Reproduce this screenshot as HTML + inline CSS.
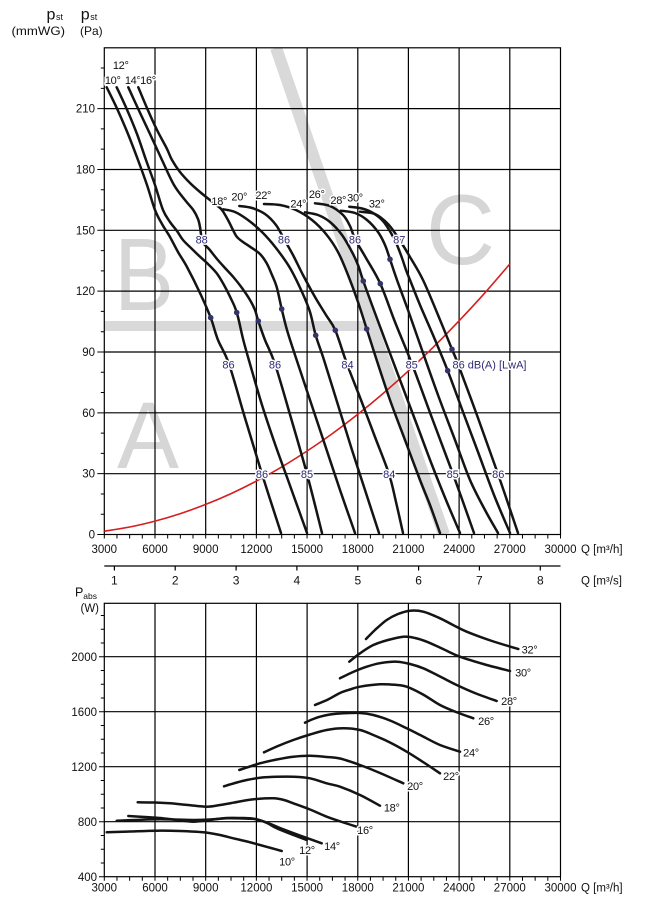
<!DOCTYPE html>
<html><head><meta charset="utf-8"><style>
html,body{margin:0;padding:0;background:#fff;}
svg{display:block;}
text{font-family:"Liberation Sans",Arial,sans-serif;}
.ax{font-size:11.5px;fill:#111;}
.lb{font-size:11px;fill:#111;stroke:#fff;stroke-width:3px;paint-order:stroke;letter-spacing:-0.3px;}
.nv{font-size:11px;fill:#2d2b78;stroke:#fff;stroke-width:3px;paint-order:stroke;text-anchor:middle;}
.cv{fill:none;stroke:#141414;stroke-width:2.5;stroke-linejoin:round;stroke-linecap:round;}
</style></head><body>
<svg id="chart" width="645" height="916" viewBox="0 0 645 916" xmlns="http://www.w3.org/2000/svg">
<defs><clipPath id="cp"><rect x="104.3" y="47.8" width="456.2" height="486.7"/></clipPath></defs>
<rect width="645" height="916" fill="#fff"/>

<!-- header labels -->
<text x="46.5" y="19.3" font-size="16" fill="#111">p</text><text x="56" y="20" font-size="9" fill="#111">st</text>
<text x="80.8" y="19.3" font-size="16" fill="#111">p</text><text x="90.3" y="20" font-size="9" fill="#111">st</text>
<text x="11.5" y="34.8" font-size="12" fill="#111" textLength="53.5" lengthAdjust="spacingAndGlyphs">(mmWG)</text>
<text x="80" y="34.8" font-size="12" fill="#111">(Pa)</text>

<!-- gray regions -->
<g fill="#d6d6d6">
<text x="114" y="310" font-size="103" textLength="60" lengthAdjust="spacingAndGlyphs">B</text>
<text x="117" y="468" font-size="95" textLength="62" lengthAdjust="spacingAndGlyphs">A</text>
<text x="426" y="264" font-size="99" textLength="69" lengthAdjust="spacingAndGlyphs">C</text>
</g>
<g clip-path="url(#cp)">
<rect x="104.3" y="321" width="266" height="10" fill="#d9d9d9"/>
<line x1="276" y1="47.8" x2="444" y2="534.5" stroke="#d9d9d9" stroke-width="12"/>
</g>

<!-- top grid -->
<g stroke="#000" stroke-width="1.2" fill="none">
<rect x="104.3" y="47.8" width="456.2" height="486.7"/>
<path d="M155 47.8V534.5M205.7 47.8V534.5M256.4 47.8V534.5M307.1 47.8V534.5M357.8 47.8V534.5M408.4 47.8V534.5M459.1 47.8V534.5M509.8 47.8V534.5"/>
<path d="M104.3 473.7H560.5M104.3 412.8H560.5M104.3 352H560.5M104.3 291.1H560.5M104.3 230.3H560.5M104.3 169.5H560.5M104.3 108.6H560.5"/>
</g>
<!-- top ticks -->
<g stroke="#000" stroke-width="1" fill="none">
<path d="M104.3 534.5v4M116.97 534.5v4M129.64 534.5v4M142.32 534.5v4M154.99 534.5v4M167.66 534.5v4M180.33 534.5v4M193 534.5v4M205.68 534.5v4M218.35 534.5v4M231.02 534.5v4M243.69 534.5v4M256.36 534.5v4M269.04 534.5v4M281.71 534.5v4M294.38 534.5v4M307.05 534.5v4M319.72 534.5v4M332.4 534.5v4M345.07 534.5v4M357.74 534.5v4M370.41 534.5v4M383.08 534.5v4M395.76 534.5v4M408.43 534.5v4M421.1 534.5v4M433.77 534.5v4M446.44 534.5v4M459.12 534.5v4M471.79 534.5v4M484.46 534.5v4M497.13 534.5v4M509.8 534.5v4M522.48 534.5v4M535.15 534.5v4M547.82 534.5v4M560.49 534.5v4"/>
<path d="M97.3 534.5h7M100.8 514.22h3.5M100.8 493.94h3.5M97.3 473.66h7M100.8 453.38h3.5M100.8 433.1h3.5M97.3 412.82h7M100.8 392.54h3.5M100.8 372.26h3.5M97.3 351.98h7M100.8 331.7h3.5M100.8 311.42h3.5M97.3 291.14h7M100.8 270.86h3.5M100.8 250.58h3.5M97.3 230.3h7M100.8 210.02h3.5M100.8 189.74h3.5M97.3 169.46h7M100.8 149.18h3.5M100.8 128.9h3.5M97.3 108.62h7M100.8 88.34h3.5M100.8 68.06h3.5"/>
</g>
<!-- top y labels -->
<g class="ax" text-anchor="end">
<text x="95" y="538.5">0</text><text x="95" y="477.7">30</text><text x="95" y="416.8">60</text><text x="95" y="356">90</text><text x="95" y="295.1">120</text><text x="95" y="234.3">150</text><text x="95" y="173.5">180</text><text x="95" y="112.6">210</text>
</g>
<!-- top x labels -->
<g class="ax" text-anchor="middle">
<text x="104.3" y="553">3000</text><text x="155" y="553">6000</text><text x="205.7" y="553">9000</text><text x="256.4" y="553">12000</text><text x="307.1" y="553">15000</text><text x="357.8" y="553">18000</text><text x="408.4" y="553">21000</text><text x="459.1" y="553">24000</text><text x="509.8" y="553">27000</text><text x="560.5" y="553">30000</text>
</g>
<text class="ax" x="581" y="553">Q [m³/h]</text>

<!-- m3/s axis -->
<g stroke="#000" stroke-width="1.2" fill="none">
<path d="M104.3 566H560.5"/>
<path d="M114.4 566v4.5M175.2 566v4.5M236.1 566v4.5M296.9 566v4.5M357.8 566v4.5M418.6 566v4.5M479.4 566v4.5M540.3 566v4.5"/>
</g>
<g class="ax" text-anchor="middle" style="font-size:12px">
<text x="114.4" y="584.5">1</text><text x="175.2" y="584.5">2</text><text x="236.1" y="584.5">3</text><text x="296.9" y="584.5">4</text><text x="357.8" y="584.5">5</text><text x="418.6" y="584.5">6</text><text x="479.4" y="584.5">7</text><text x="540.3" y="584.5">8</text>
</g>
<text class="ax" x="581" y="584.5">Q [m³/s]</text>

<!-- red system curve -->
<polyline class="sm" fill="none" stroke="#d41f1f" stroke-width="1.6" points="104.3,531.2 129.7,527 155,521.1 180.4,513.6 205.7,504.4 231.1,493.6 256.4,481.1 281.8,466.9 307.1,451 332.5,433.5 357.8,414.3 383.2,393.4 408.5,370.8 433.9,346.6 459.2,320.7 484.6,293.2 509.9,263.9"/>

<!-- top curves -->
<g class="cv">
<polyline class="sm" points="106.7,87.3 117,108.5 128,134 138,160 147,185 155,210 162,224 170,237 178,252 187,267 200,293 210.7,317.7 218,340 229,364 245,418 262,474 281,533"/>
<polyline class="sm" points="116.7,87.3 126.5,108.5 137,134 146,160 155,185 163,210 170,222 177,231 183,240 192,249 200,256.7 208,264 216.7,273.3 224,285 230,296.7 236.7,312.3 243.3,340 250,364 262,405 275,444 288,480 307,533"/>
<polyline class="sm" points="128.3,87.3 138,108.5 150,134 162,160 174,185 185,200 193.3,210 198,219 200,227 201.7,239 204,244 209,249 217,259 225,268 233.3,277 242,288 250,300 255,310 258.3,321 265,340 275,364 291,418 307,474 322,533"/>
<polyline class="sm" points="138.3,87.3 147.3,108.7 157,130 166.7,148.3 172,160 180,172 190,183 200,192 210,200 217,205.5 222,210 228,220 233,230 237,237 243,242 250,246.7 260,254 266.7,263.3 272,275 276.7,287 281.7,309 287,330 295,355 310,400 325,445 340,490 355,533"/>
<polyline class="sm" points="223.3,209.3 235,212 248,220 262,232 276,248 290,268 302,292 310,312 315.7,335.3 324,360 338,405 352,450 365,490 379,533"/>
<polyline class="sm" points="239.3,206 252,208 265,214 276,225 284,239 293,255 303,275 315,297 326,315 335.3,330.3 347,364 361,400 375,437 389,474 396,502 403,533"/>
<polyline class="sm" points="264,204 280,205 296,210 312,220 326,234 338,252 348,275 358,302 366.7,329 376,358 390,400 405,440 420,480 430,505 440,533"/>
<polyline class="sm" points="305,212.3 318,215 330,222 342,235 352,252 358,265 363.3,281 372,305 385,340 400,380 417,425 432,465 446,500 460,533"/>
<polyline class="sm" points="315,203.3 330,206 343,215 350,226 355,239 366,258 380.3,283.7 395,322 412,364 432,418 453,474 474,533"/>
<polyline class="sm" points="340.7,210.7 355,213 367,220 378,232 385,245 390,259.3 397,280 408,310 422,350 438,395 455,440 470,480 485,510 498,533"/>
<polyline class="sm" points="349.3,206.7 362,208.5 373,213 383,221 391,233 397,245 402,258 406,270 410,280 420,305 433,335 447.7,370.7 463,412 478,452 494,495 510,533"/>
<polyline class="sm" points="360,211.7 375,214 388,224 399,239 410,257 423,280 438,315 452,349.3 458,364 478,418 498,474 518,533"/>
</g>

<!-- dots -->
<g fill="#34346a">
<circle cx="210.7" cy="317.7" r="2.8"/><circle cx="236.7" cy="312.5" r="2.8"/><circle cx="258.3" cy="321" r="2.8"/><circle cx="281.7" cy="309" r="2.8"/><circle cx="315.7" cy="335.3" r="2.8"/><circle cx="335.3" cy="330.3" r="2.8"/><circle cx="366.7" cy="329" r="2.8"/><circle cx="363.3" cy="281" r="2.8"/><circle cx="380.3" cy="283.7" r="2.8"/><circle cx="390" cy="259.3" r="2.8"/><circle cx="452" cy="349.3" r="2.8"/><circle cx="447.7" cy="370.7" r="2.8"/>
</g>

<!-- angle labels top -->
<g class="lb" text-anchor="middle">
<text x="120.7" y="69">12°</text><text x="112.7" y="84">10°</text><text x="132.7" y="84">14°</text><text x="148" y="84">16°</text>
<text x="219.3" y="205">18°</text><text x="239.3" y="200.7">20°</text><text x="263.3" y="199">22°</text><text x="298.3" y="207.3">24°</text><text x="316.7" y="198">26°</text><text x="338.3" y="204">28°</text><text x="355" y="201.3">30°</text><text x="376.7" y="207.3">32°</text>
</g>

<!-- dB labels -->
<g>
<text class="nv" x="201.7" y="243.3">88</text><text class="nv" x="284" y="243.3">86</text><text class="nv" x="355" y="243.3">86</text><text class="nv" x="399.3" y="243.3">87</text>
<text class="nv" x="228.5" y="368.3">86</text><text class="nv" x="275" y="368.3">86</text><text class="nv" x="347.5" y="368.3">84</text><text class="nv" x="411.7" y="368.3">85</text>
<text class="nv" x="262" y="478">86</text><text class="nv" x="307" y="478">85</text><text class="nv" x="389.3" y="478">84</text><text class="nv" x="452.7" y="478">85</text><text class="nv" x="498.3" y="478">86</text>
<text class="nv" x="452.5" y="368.3" style="text-anchor:start">86 dB(A) [LwA]</text>
</g>

<!-- bottom chart labels -->
<text x="75" y="596.5" font-size="12.5" fill="#111">P</text><text x="83.3" y="598.8" font-size="8.5" fill="#111">abs</text>
<text x="80.5" y="612" font-size="11.5" fill="#111">(W)</text>

<!-- bottom grid -->
<g stroke="#000" stroke-width="1.2" fill="none">
<rect x="104.3" y="603.3" width="456.2" height="273.4"/>
<path d="M155 603.3V876.7M205.7 603.3V876.7M256.4 603.3V876.7M307.1 603.3V876.7M357.8 603.3V876.7M408.4 603.3V876.7M459.1 603.3V876.7M509.8 603.3V876.7"/>
<path d="M104.3 821.7H560.5M104.3 766.7H560.5M104.3 711.7H560.5M104.3 656.7H560.5"/>
</g>
<g stroke="#000" stroke-width="1" fill="none">
<path d="M104.3 876.7v4M116.97 876.7v4M129.64 876.7v4M142.32 876.7v4M154.99 876.7v4M167.66 876.7v4M180.33 876.7v4M193 876.7v4M205.68 876.7v4M218.35 876.7v4M231.02 876.7v4M243.69 876.7v4M256.36 876.7v4M269.04 876.7v4M281.71 876.7v4M294.38 876.7v4M307.05 876.7v4M319.72 876.7v4M332.4 876.7v4M345.07 876.7v4M357.74 876.7v4M370.41 876.7v4M383.08 876.7v4M395.76 876.7v4M408.43 876.7v4M421.1 876.7v4M433.77 876.7v4M446.44 876.7v4M459.12 876.7v4M471.79 876.7v4M484.46 876.7v4M497.13 876.7v4M509.8 876.7v4M522.48 876.7v4M535.15 876.7v4M547.82 876.7v4M560.49 876.7v4"/>
<path d="M99 876.7h5.3M100.8 862.95h3.5M100.8 849.2h3.5M100.8 835.45h3.5M99 821.7h5.3M100.8 807.95h3.5M100.8 794.2h3.5M100.8 780.45h3.5M99 766.7h5.3M100.8 752.95h3.5M100.8 739.2h3.5M100.8 725.45h3.5M99 711.7h5.3M100.8 697.95h3.5M100.8 684.2h3.5M100.8 670.45h3.5M99 656.7h5.3M100.8 642.95h3.5M100.8 629.2h3.5M100.8 615.45h3.5"/>
</g>
<g class="ax" text-anchor="end">
<text x="97" y="880.8">400</text><text x="97" y="825.8">800</text><text x="97" y="770.8">1200</text><text x="97" y="715.8">1600</text><text x="97" y="660.8">2000</text>
</g>
<g class="ax" text-anchor="middle">
<text x="104.3" y="891.5">3000</text><text x="155" y="891.5">6000</text><text x="205.7" y="891.5">9000</text><text x="256.4" y="891.5">12000</text><text x="307.1" y="891.5">15000</text><text x="357.8" y="891.5">18000</text><text x="408.4" y="891.5">21000</text><text x="459.1" y="891.5">24000</text><text x="509.8" y="891.5">27000</text><text x="560.5" y="891.5">30000</text>
</g>
<text class="ax" x="581" y="891.5">Q [m³/h]</text>

<!-- bottom curves -->
<g class="cv">
<polyline class="sm" points="106.7,832.3 130,831.5 156.7,830.7 180,831 203.3,832.3 220,835 233.3,838.3 247,841.5 260,845 271,848 281.7,851"/>
<polyline class="sm" points="116.7,820.7 135,820 160,819.3 193.3,820 210,819.5 226.7,818.3 243,818.5 256.7,819.3 267,823 276.7,828.3 292,834.5 306.7,840"/>
<polyline class="sm" points="128.3,816 145,817 160,818 177,820 193.3,821.7 210,820 226.7,818 240,818 253.3,818.7 268,823 280,828 300,835.5 321.7,843.3"/>
<polyline class="sm" points="137.7,802.3 155,802.5 170,803.3 188,805 206.7,806.7 220,805 233.3,802.7 245,800.5 256.7,799 273.3,798.3 284,800 293.3,803.3 310,809.5 326.7,816.7 342,822 356.7,826.7"/>
<polyline class="sm" points="224,786.3 235,783 246.7,780 262,777.5 276.7,776.7 293.3,776.7 310,778.3 326.7,783.3 340,786.7 360,795 380,805.7"/>
<polyline class="sm" points="239.3,770 250,766.5 260,763.3 276.7,759.5 293.3,756.7 310,755.7 326.7,757 340,758.5 360,765 380,773 403.3,783.3"/>
<polyline class="sm" points="264,752.3 278,746 293.3,740 310,734.5 326.7,730 343.3,728.3 360,730 373.3,735 390,742.5 406.7,751.7 423,762 440,773.3"/>
<polyline class="sm" points="305,722.7 312,719.5 320,716.7 330,714.5 343.3,713.3 360,713 373.3,715 390,720.5 406.7,728.3 423,736.5 440,745 460,751.7"/>
<polyline class="sm" points="315,705 328,699.5 340,693 350,689.5 360,686.7 380,684.3 395,684.8 406.7,686.7 423,694.5 440,705 456,712 473.3,718.3"/>
<polyline class="sm" points="340,678.3 353,672 366.7,666.7 380,663.2 396.7,661.7 410,664 423.3,668.3 440,676.5 456.7,685 476,693.5 496.7,701"/>
<polyline class="sm" points="349.3,661.7 360,653.3 373.3,645 388,640 403.3,636.7 415,638 426.7,641.7 443,649 460,656.7 485,664.5 510,671"/>
<polyline class="sm" points="366,639 375,630 386.7,620 398,614 410,610.7 423.3,611.7 440,618.3 453,625 466.7,631.7 492,641 518.3,649"/>
</g>
<g class="lb" text-anchor="middle">
<text x="287" y="865.7">10°</text><text x="307" y="854">12°</text><text x="332" y="850">14°</text><text x="365" y="834">16°</text><text x="391.7" y="811.3">18°</text><text x="415" y="790">20°</text><text x="451" y="780">22°</text><text x="471" y="756.3">24°</text><text x="486" y="725">26°</text><text x="509" y="705">28°</text><text x="523" y="676.7">30°</text><text x="529.5" y="653.3">32°</text>
</g>
</svg>
<script>
(function(){
  var NS="http://www.w3.org/2000/svg";
  var pls=document.querySelectorAll("polyline.sm");
  for(var k=0;k<pls.length;k++){
    var pl=pls[k];
    var raw=pl.getAttribute("points").trim().split(/\s+/);
    var p=[];
    for(var i=0;i<raw.length;i++){var xy=raw[i].split(",");p.push([parseFloat(xy[0]),parseFloat(xy[1])]);}
    if(p.length<3) continue;
    var d="M"+p[0][0]+" "+p[0][1];
    for(var i=0;i<p.length-1;i++){
      var p0=p[i>0?i-1:i],p1=p[i],p2=p[i+1],p3=p[i+2<p.length?i+2:i+1];
      var c1x=p1[0]+(p2[0]-p0[0])/6,c1y=p1[1]+(p2[1]-p0[1])/6;
      var c2x=p2[0]-(p3[0]-p1[0])/6,c2y=p2[1]-(p3[1]-p1[1])/6;
      d+="C"+c1x.toFixed(2)+" "+c1y.toFixed(2)+" "+c2x.toFixed(2)+" "+c2y.toFixed(2)+" "+p2[0]+" "+p2[1];
    }
    var path=document.createElementNS(NS,"path");
    path.setAttribute("d",d);
    var attrs=["fill","stroke","stroke-width","class"];
    for(var a=0;a<attrs.length;a++){var v=pl.getAttribute(attrs[a]);if(v!==null)path.setAttribute(attrs[a],v);}
    pl.parentNode.replaceChild(path,pl);
  }
})();
</script>
</body></html>
